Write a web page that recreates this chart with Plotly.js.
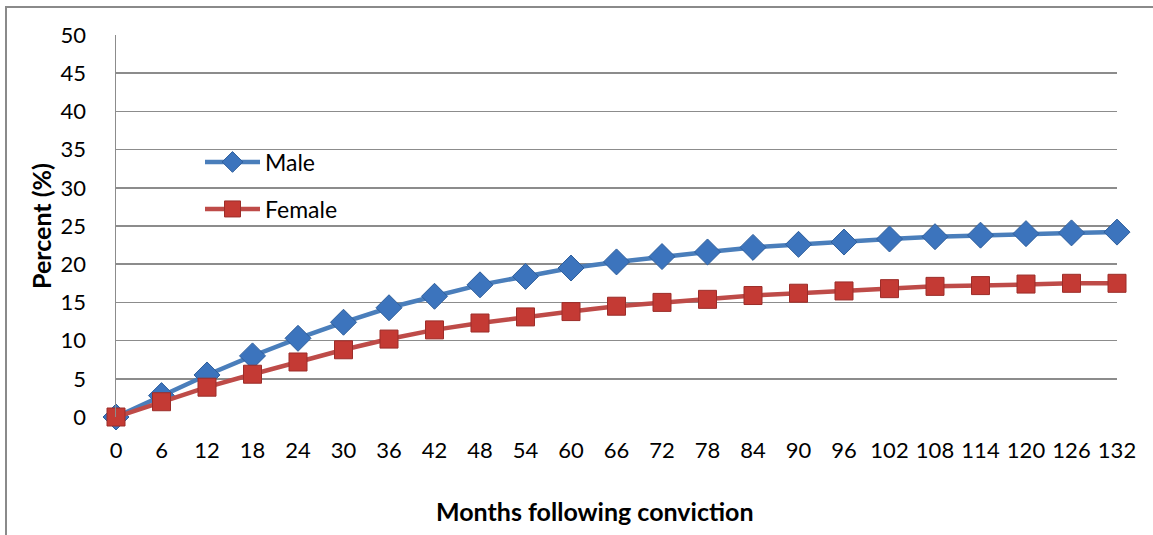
<!DOCTYPE html>
<html>
<head>
<meta charset="utf-8">
<script src="https://cdn.plot.ly/plotly-3.0.1.min.js"></script>
<style>
html,body{margin:0;padding:0;background:#fff;}
#chart{width:1153px;height:535px;}
</style>
</head>
<body>
<div id="chart"></div>
<script>
const months = [0,6,12,18,24,30,36,42,48,54,60,66,72,78,84,90,96,102,108,114,120,126,132];
const male   = [0,2.8,5.5,8.0,10.3,12.4,14.3,15.8,17.3,18.4,19.5,20.3,21.0,21.6,22.2,22.6,22.9,23.3,23.6,23.8,24.0,24.1,24.2];
const female = [0,2.0,3.9,5.6,7.2,8.8,10.2,11.4,12.3,13.1,13.8,14.5,15.0,15.4,15.9,16.2,16.5,16.8,17.1,17.2,17.4,17.5,17.5];
const yTicks = [0,5,10,15,20,25,30,35,40,45,50];
const seriesNames = ['Male','Female'];
const xTitle = 'Months following conviction';
const yTitle = 'Percent (%)';

const FONT = 'Lato, "Open Sans", sans-serif';

const traces = [
  {
    x: months, y: male, name: seriesNames[0], type: 'scatter', mode: 'lines+markers',
    line: {color: '#4a7ebb', width: 4.5},
    marker: {symbol: 'diamond', size: 20, color: '#3c74bd', line: {color: '#2f5f9c', width: 1}},
    cliponaxis: false, legend: 'legend'
  },
  {
    x: months, y: female, name: seriesNames[1], type: 'scatter', mode: 'lines+markers',
    line: {color: '#be4b48', width: 4.5},
    marker: {symbol: 'square', size: 18, color: '#c43a34', line: {color: '#9c2d29', width: 1}},
    cliponaxis: false, legend: 'legend2'
  }
];

const W = 1153, H = 535;
const L = 116, R = 1117, T = 35, B = 417;
const px2x = p => (p - L) / (R - L);
const py2y = p => (B - p) / (B - T);

const layout = {
  width: W, height: H,
  margin: {l: L, r: W - R, t: T, b: H - B, pad: 0},
  paper_bgcolor: '#ffffff', plot_bgcolor: '#ffffff',
  font: {family: FONT, size: 22, color: '#000'},
  showlegend: true,
  xaxis: {
    range: [0, 132], autorange: false,
    tickmode: 'array', tickvals: months, ticktext: months.map(String),
    showgrid: false, zeroline: false, showline: false,
    ticks: '', ticklabelstandoff: 18,
    tickfont: {family: FONT, size: 22, color: '#000'}
  },
  yaxis: {
    range: [0, 50], autorange: false,
    tickmode: 'array', tickvals: yTicks, ticktext: yTicks.map(String),
    showgrid: true, gridcolor: '#8c8c8c', gridwidth: 1.5,
    zeroline: false, showline: true, linecolor: '#8c8c8c', linewidth: 1.5,
    ticks: '', ticklabelstandoff: 24,
    tickfont: {family: FONT, size: 22, color: '#000'}
  },
  annotations: [
    {text: '<b>' + xTitle + '</b>', xref: 'paper', yref: 'paper',
     x: px2x(595), y: py2y(511), xanchor: 'center', yanchor: 'middle', showarrow: false,
     font: {family: FONT, size: 25, color: '#000'}},
    {text: '<b>' + yTitle + '</b>', xref: 'paper', yref: 'paper', textangle: -90,
     x: px2x(41), y: py2y(226), xanchor: 'center', yanchor: 'middle', showarrow: false,
     font: {family: FONT, size: 25, color: '#000'}}
  ],
  legend: {
    x: px2x(200), xanchor: 'left', y: py2y(162), yanchor: 'middle',
    bgcolor: 'rgba(0,0,0,0)', borderwidth: 0, itemwidth: 55,
    font: {family: FONT, size: 23, color: '#000'}
  },
  legend2: {
    x: px2x(200), xanchor: 'left', y: py2y(209), yanchor: 'middle',
    bgcolor: 'rgba(0,0,0,0)', borderwidth: 0, itemwidth: 55,
    font: {family: FONT, size: 23, color: '#000'}
  },
  shapes: [
    {type: 'rect', xref: 'paper', yref: 'paper',
     x0: px2x(6), x1: px2x(1170), y0: py2y(560), y1: py2y(7),
     line: {color: '#8a8a8a', width: 2}, fillcolor: 'rgba(0,0,0,0)', layer: 'below'}
  ]
};

Plotly.newPlot('chart', traces, layout, {displayModeBar: false, staticPlot: true});
</script>
</body>
</html>
